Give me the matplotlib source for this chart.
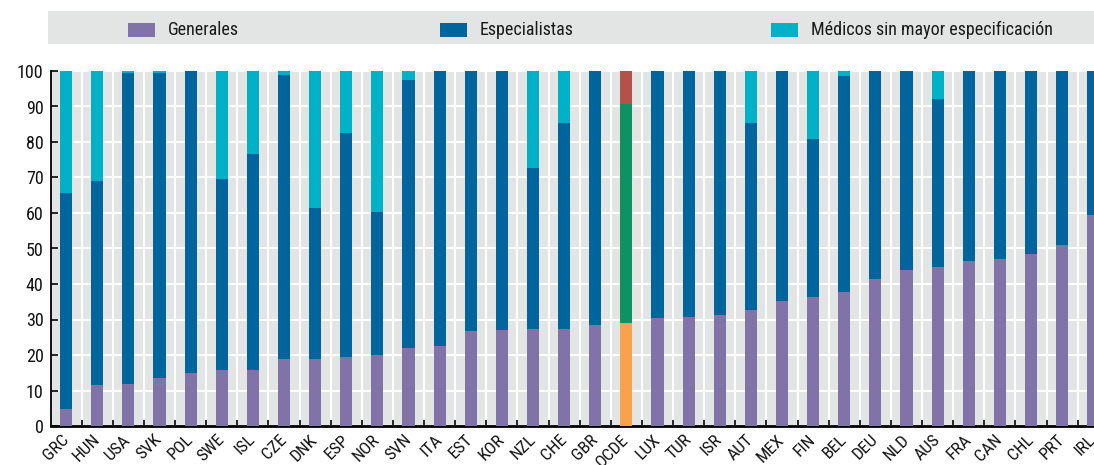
import matplotlib
matplotlib.use("Agg")
import matplotlib.pyplot as plt
from matplotlib import font_manager
from matplotlib.patches import Rectangle
import numpy as np

# Doctors by category, share of total (%)
countries = ["GRC", "HUN", "USA", "SVK", "POL", "SWE", "ISL", "CZE", "DNK", "ESP",
             "NOR", "SVN", "ITA", "EST", "KOR", "NZL", "CHE", "GBR", "OCDE", "LUX",
             "TUR", "ISR", "AUT", "MEX", "FIN", "BEL", "DEU", "NLD", "AUS", "FRA",
             "CAN", "CHL", "PRT", "IRL"]
generales = [4.8, 11.5, 11.7, 13.6, 14.9, 15.8, 15.8, 18.9, 18.9, 19.4,
             20.0, 22.0, 22.5, 26.8, 27.0, 27.3, 27.3, 28.4, 29.1, 30.4,
             30.7, 31.3, 32.7, 35.2, 36.2, 37.7, 41.5, 44.0, 44.9, 46.6,
             47.0, 48.5, 51.0, 59.4]
especialistas = [60.8, 57.6, 87.8, 85.7, 85.1, 53.7, 60.8, 79.9, 42.5, 63.2,
                 40.2, 75.6, 77.5, 73.2, 73.0, 45.5, 58.1, 71.6, 61.7, 69.6,
                 69.3, 68.7, 52.7, 64.8, 44.7, 61.0, 58.5, 56.0, 47.3, 53.4,
                 53.0, 51.5, 49.0, 40.6]
sin_especificar = [34.4, 30.9, 0.5, 0.7, 0.0, 30.5, 23.4, 1.2, 38.6, 17.4,
                   39.8, 2.4, 0.0, 0.0, 0.0, 27.2, 14.6, 0.0, 9.2, 0.0,
                   0.0, 0.0, 14.6, 0.0, 19.1, 1.3, 0.0, 0.0, 7.8, 0.0,
                   0.0, 0.0, 0.0, 0.0]
legend_labels = ["Generales", "Especialistas", "Médicos sin mayor especificación"]
highlight = "OCDE"

COL_GEN = "#7f73a8"
COL_SPEC = "#00659d"
COL_UNSP = "#00b1c8"
HL_COLORS = ["#f8a34b", "#0f9262", "#b1534a"]
BG = "#e3e4e4"

installed = {f.name for f in font_manager.fontManager.ttflist}
family = [f for f in ["Liberation Sans Narrow", "Roboto Condensed", "Liberation Sans"] if f in installed]
plt.rcParams["font.family"] = family + ["DejaVu Sans"]

FS = 13

W, H = 1094, 465
fig = plt.figure(figsize=(W / 100, H / 100), dpi=100)

x0, x1 = 50.5, 1094
y0, y1 = 426, 71
ax = fig.add_axes([x0 / W, 1 - y0 / H, (x1 - x0) / W, (y0 - y1) / H])
ax.set_facecolor(BG)

x = np.arange(len(countries))
gen = np.array(generales)
spec = np.array(especialistas)
unsp = np.array(sin_especificar)
hl = countries.index(highlight)

c_gen = [COL_GEN] * len(x)
c_spec = [COL_SPEC] * len(x)
c_unsp = [COL_UNSP] * len(x)
c_gen[hl], c_spec[hl], c_unsp[hl] = HL_COLORS

width = 0.39
ax.bar(x, gen, width, color=c_gen, zorder=3)
ax.bar(x, spec, width, bottom=gen, color=c_spec, zorder=3)
ax.bar(x, unsp, width, bottom=gen + spec, color=c_unsp, zorder=3)

ax.set_xlim(-0.5, (x1 - 66) / 31.13)
ax.set_ylim(0, 100)
ax.set_yticks(range(0, 101, 10))
ax.set_xticks(x)
ax.set_xticklabels(countries, rotation=45, ha="right", va="center",
                   rotation_mode="anchor", fontsize=12.5, color="#111111")
ax.set_xticks(x[:-1] + 0.5, minor=True)
ax.tick_params(axis="x", which="major", length=0, pad=8)
ax.tick_params(axis="x", which="minor", direction="in", length=4, width=1.2, color="black")
ax.tick_params(axis="y", direction="in", length=5, width=1.2, labelsize=FS, pad=5,
               labelcolor="#111111")

ax.grid(axis="y", color="white", linewidth=1.5, zorder=1)
ax.grid(axis="x", which="minor", color="white", linewidth=1.5, zorder=1)
ax.set_axisbelow(True)

for side in ("top", "right"):
    ax.spines[side].set_visible(False)
ax.spines["left"].set_linewidth(1.3)
ax.spines["bottom"].set_linewidth(2)

# legend band on top
fig.patches.append(Rectangle((48 / W, 1 - 44 / H), (W - 48) / W, 33 / H,
                             transform=fig.transFigure, facecolor=BG,
                             edgecolor="none", zorder=0))
legend_x = [128, 440, 771]
for lx, lab, col in zip(legend_x, legend_labels, [COL_GEN, COL_SPEC, COL_UNSP]):
    fig.patches.append(Rectangle((lx / W, 1 - 36.7 / H), 27 / W, 13.7 / H,
                                 transform=fig.transFigure, facecolor=col,
                                 edgecolor="none", zorder=1))
    fig.text((lx + 40) / W, 1 - 30 / H, lab, ha="left", va="center",
             fontsize=FS, color="#1a1a1a")

fig.savefig("out.png", dpi=100)
